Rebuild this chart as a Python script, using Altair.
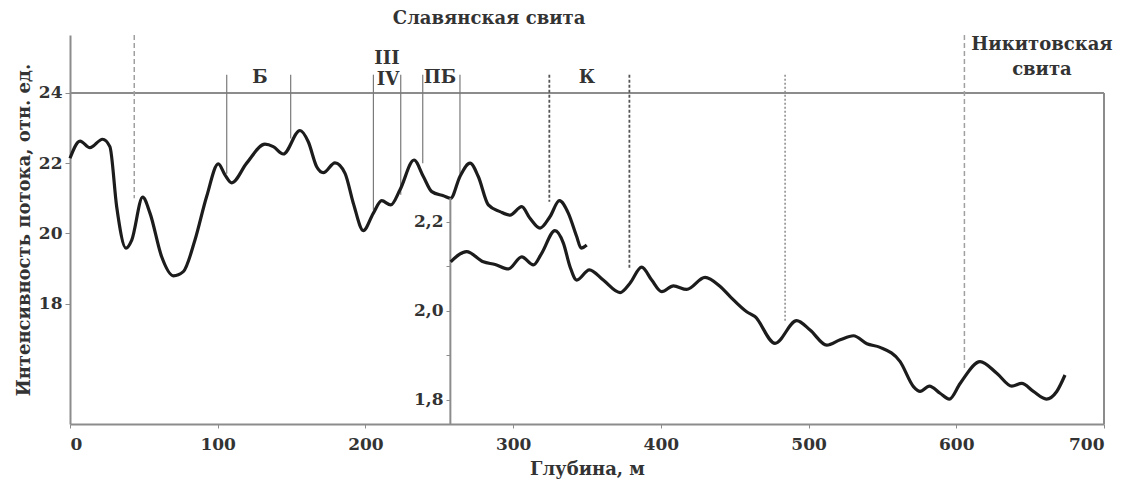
import altair as alt
import pandas as pd

# ---- data ----
upper_depth = [0, 6.8, 13.5, 22, 27, 31.6, 37.9, 41.8, 49.2, 54.2, 62, 70, 76.7, 84.6, 92.5,
               100.4, 105, 109.5, 119.6, 132, 137.6, 144.4, 155.7, 161.3, 167, 171.5, 179.4,
               186.2, 191.8, 198.6, 205.3, 211, 217.1, 223.4, 232.9, 239.2, 244.9, 252.8, 257.7,
               264, 270.8, 276.4, 283.2, 291.1, 297.9, 305.8, 311.4, 318.2, 325, 331.3, 337.4,
               343, 346, 349.8]
upper_value = [22.14, 22.63, 22.44, 22.68, 22.47, 20.76, 19.58, 19.81, 21.03, 20.57, 19.34, 18.79,
               18.91, 19.81, 21.05, 21.98, 21.66, 21.44, 22.0, 22.54, 22.47, 22.26, 22.93, 22.61,
               21.9, 21.73, 22.01, 21.71, 20.86, 20.08, 20.57, 20.93, 20.81, 21.24, 22.09, 21.62,
               21.19, 21.07, 21.0, 21.62, 22.0, 21.62, 20.81, 20.62, 20.52, 20.76, 20.43, 20.15,
               20.48, 20.93, 20.57, 19.91, 19.58, 19.67]

lower_depth = [257.7, 268.5, 279.8, 287.8, 296.8, 305.8, 313.7, 319.3, 328.3, 334, 338.5, 343,
               351.6, 361, 372.4, 379.1, 387, 393.8, 400.6, 408.5, 417.5, 429.9, 440, 446.9,
               458.1, 463.7, 477.3, 491.9, 501, 512.3, 521.4, 530.4, 539.5, 548.4, 562, 571,
               575.5, 581.8, 589, 595.3, 602.6, 616.1, 627.4, 637.6, 644.3, 652.2, 661, 668, 673.6]
lower_value = [2.110, 2.133, 2.110, 2.104, 2.094, 2.121, 2.103, 2.129, 2.180, 2.152, 2.099, 2.069,
               2.092, 2.069, 2.041, 2.062, 2.098, 2.069, 2.043, 2.056, 2.048, 2.075, 2.055, 2.032,
               1.998, 1.987, 1.927, 1.978, 1.957, 1.923, 1.935, 1.944, 1.926, 1.918, 1.886, 1.830,
               1.819, 1.831, 1.815, 1.802, 1.837, 1.886, 1.860, 1.831, 1.837, 1.819, 1.802, 1.819,
               1.856]

marker_x = [43.5, 106.1, 149.4, 205.4, 223.9, 238.8, 264.0, 324.5, 378.7, 484.1, 605.5]
marker_top = [25.65, 24.52, 24.52, 24.52, 24.52, 24.52, 24.52, 24.52, 24.52, 24.52, 25.65]
marker_bottom = [21.0, 21.7, 22.7, 20.67, 21.1, 22.0, 21.7, 20.9, 18.96, 17.48, 16.11]
marker_style = ["dash", "solid", "solid", "solid", "solid", "solid", "solid",
                "dense", "dense", "dot", "dash"]

label_text = ["Славянская свита", "Б", "III", "IV", "ПБ", "К", "Никитовская", "свита"]
label_x = [283.7, 128.6, 214.6, 215.3, 250.5, 350.0, 658.0, 658.0]
label_y = [26.1, 24.43, 24.97, 24.37, 24.43, 24.43, 25.37, 24.66]

x_ticks = [0, 100, 200, 300, 400, 500, 600, 700]
left_ticks = [18, 20, 22, 24]
inner_ticks = [1.8, 1.9, 2.0, 2.1, 2.2]

X_DOMAIN = [0, 700]
LEFT_DOMAIN = [14.57, 25.65]
INNER_DOMAIN = [1.746, 2.619]
INNER_AXIS_X = 257.5
INNER_AXIS_TOP = 2.253

FONT = "DejaVu Serif"
TXT = "#333333"
AX = "#8c8c8c"

upper_df = pd.DataFrame({"depth": upper_depth, "value": upper_value})
lower_df = pd.DataFrame({"depth": lower_depth, "value": lower_value})
marker_df = pd.DataFrame({"x": marker_x, "top": marker_top, "bottom": marker_bottom,
                          "style": marker_style})
label_df = pd.DataFrame({"text": label_text, "x": label_x, "y": label_y})

xs = alt.Scale(domain=X_DOMAIN, nice=False, zero=False)
ls = alt.Scale(domain=LEFT_DOMAIN, nice=False, zero=False)
ins = alt.Scale(domain=INNER_DOMAIN, nice=False, zero=False)

x_axis = alt.Axis(values=x_ticks, title="Глубина, м", grid=False, domainColor=AX,
                  domainWidth=2, tickColor=AX, tickSize=4, labelPadding=8,
                  labelFont=FONT, labelFontSize=17, labelFontWeight="bold", labelColor=TXT,
                  titleFont=FONT, titleFontSize=18, titleFontWeight="bold", titleColor=TXT,
                  titlePadding=8)
left_axis = alt.Axis(values=left_ticks, title="Интенсивность потока, отн. ед.", grid=False,
                     domainColor=AX, domainWidth=2, tickColor=AX, tickSize=5, labelPadding=3,
                     labelFont=FONT, labelFontSize=17, labelFontWeight="bold", labelColor=TXT,
                     titleFont=FONT, titleFontSize=18, titleFontWeight="bold", titleColor=TXT,
                     titlePadding=5)
inner_axis = alt.Axis(values=inner_ticks, orient="left", offset=-380, title=None, grid=False,
                      domain=False, tickColor=AX, tickSize=4, labelPadding=3,
                      labelExpr="abs(round(datum.value*10)) % 2 == 0 ? replace(format(datum.value, '.1f'), '.', ',') : ''",
                      labelFont=FONT, labelFontSize=17, labelFontWeight="bold", labelColor=TXT)

# upper curve with the left axis
upper_line = alt.Chart(upper_df).mark_line(color="#1c1c1c", strokeWidth=3.2,
                                           interpolate="monotone").encode(
    x=alt.X("depth:Q", scale=xs, axis=x_axis),
    y=alt.Y("value:Q", scale=ls, axis=left_axis),
)

# box lines: horizontal at 24 and right border at 700
box_top = alt.Chart(pd.DataFrame({"x": [X_DOMAIN[0]], "x2": [X_DOMAIN[1]], "y": [24]})).mark_rule(
    color=AX, strokeWidth=2).encode(
    x=alt.X("x:Q", scale=xs), x2="x2:Q", y=alt.Y("y:Q", scale=ls))
box_right = alt.Chart(pd.DataFrame({"x": [X_DOMAIN[1]], "y": [24], "y2": [LEFT_DOMAIN[0]]})).mark_rule(
    color=AX, strokeWidth=2).encode(
    x=alt.X("x:Q", scale=xs), y=alt.Y("y:Q", scale=ls), y2="y2:Q")

styles = {
    "solid": dict(color="#7a7a7a", strokeWidth=1.2),
    "dash": dict(color="#a0a0a0", strokeWidth=1.5, strokeDash=[5, 3]),
    "dense": dict(color="#555555", strokeWidth=1.8, strokeDash=[3, 2]),
    "dot": dict(color="#8a8a8a", strokeWidth=1.5, strokeDash=[2, 2]),
}
marker_layers = []
for name, st in styles.items():
    marker_layers.append(
        alt.Chart(marker_df).transform_filter(alt.datum.style == name).mark_rule(**st).encode(
            x=alt.X("x:Q", scale=xs), y=alt.Y("top:Q", scale=ls), y2="bottom:Q"))

labels = alt.Chart(label_df).mark_text(font=FONT, fontSize=18, fontWeight="bold", color=TXT,
                                       baseline="middle", align="center").encode(
    x=alt.X("x:Q", scale=xs), y=alt.Y("y:Q", scale=ls), text="text:N")

left_group = alt.layer(box_top, box_right, *marker_layers, upper_line, labels)

# lower curve with the inner axis
lower_line = alt.Chart(lower_df).mark_line(color="#1c1c1c", strokeWidth=3.2,
                                           interpolate="monotone").encode(
    x=alt.X("depth:Q", scale=xs),
    y=alt.Y("value:Q", scale=ins, axis=inner_axis),
)
inner_rule = alt.Chart(pd.DataFrame({"x": [INNER_AXIS_X], "y": [INNER_DOMAIN[0]],
                                     "y2": [INNER_AXIS_TOP]})).mark_rule(
    color=AX, strokeWidth=2).encode(
    x=alt.X("x:Q", scale=xs), y=alt.Y("y:Q", scale=ins), y2="y2:Q")

inner_group = alt.layer(inner_rule, lower_line)

chart = alt.layer(left_group, inner_group).resolve_scale(y="independent").properties(
    width=1034, height=389,
    autosize=alt.AutoSizeParams(type="none"),
    padding={"left": 62, "top": 27, "right": 19, "bottom": 66},
    background="white",
).configure_view(strokeWidth=0)

chart.save("out.html", embed_options={"renderer": "svg", "actions": False})
